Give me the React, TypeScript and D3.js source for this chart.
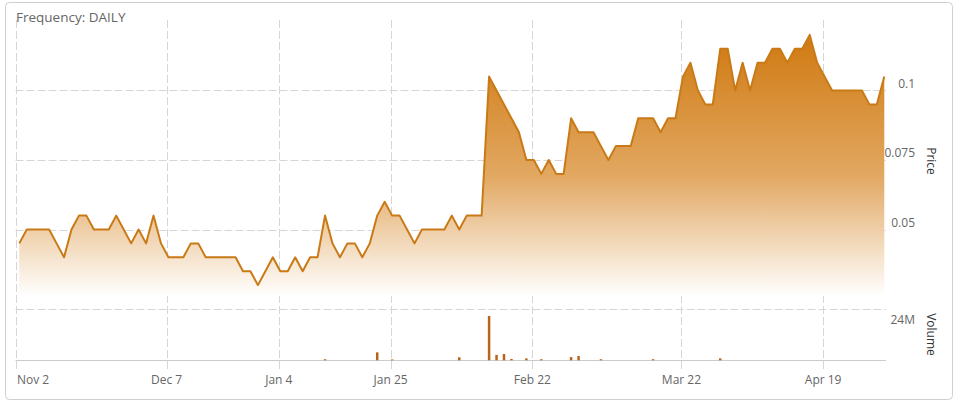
import React from "react";
import * as d3 from "d3";

// ---- data ----
const prices: number[] = [
  0.045, 0.05, 0.05, 0.05, 0.05, 0.045, 0.04, 0.05, 0.055, 0.055,
  0.05, 0.05, 0.05, 0.055, 0.05, 0.045, 0.05, 0.045, 0.055, 0.045,
  0.04, 0.04, 0.04, 0.045, 0.045, 0.04, 0.04, 0.04, 0.04, 0.04,
  0.035, 0.035, 0.03, 0.035, 0.04, 0.035, 0.035, 0.04, 0.035, 0.04,
  0.04, 0.055, 0.045, 0.04, 0.045, 0.045, 0.04, 0.045, 0.055, 0.06,
  0.055, 0.055, 0.05, 0.045, 0.05, 0.05, 0.05, 0.05, 0.055, 0.05,
  0.055, 0.055, 0.055, 0.105, 0.1, 0.095, 0.09, 0.085, 0.075, 0.075,
  0.07, 0.075, 0.07, 0.07, 0.09, 0.085, 0.085, 0.085, 0.08, 0.075,
  0.08, 0.08, 0.08, 0.09, 0.09, 0.09, 0.085, 0.09, 0.09, 0.105,
  0.11, 0.1, 0.095, 0.095, 0.115, 0.115, 0.1, 0.11, 0.1, 0.11,
  0.11, 0.115, 0.115, 0.11, 0.115, 0.115, 0.12, 0.11, 0.105, 0.1,
  0.1, 0.1, 0.1, 0.1, 0.095, 0.095, 0.105,
];

// volume in millions, by trading-day index (only days with visible volume)
const volumeDays: number[] = [41, 48, 50, 59, 63, 64, 65, 66, 68, 70, 74, 75, 78, 85, 94];
const volumeValues: number[] = [0.5, 3.7, 0.4, 1.4, 20.6, 2.5, 2.9, 0.6, 0.9, 0.5, 1.5, 2.0, 0.5, 0.5, 0.9];

// date ticks: label and their position on the trading-day axis
const tickLabels: string[] = ["Nov 2", "Dec 7", "Jan 4", "Jan 25", "Feb 22", "Mar 22", "Apr 19"];
const tickDays: number[] = [-0.45, 19.75, 34.8, 49.8, 68.8, 88.8, 107.8];

const priceTicks: number[] = [0.05, 0.075, 0.1];
const priceTickLabels: string[] = ["0.05", "0.075", "0.1"];
const volumeTicks: number[] = [24];
const volumeTickLabels: string[] = ["24M"];

// ---- layout ----
const W = 960;
const H = 406;
const plotLeft = 15.5;
const plotRight = 886;
const firstX = 19.3;
const lastX = 884.3;
const priceTop = 20;
const priceBottom = 296;
const volBase = 360.3;
const font = "'Open Sans', 'Liberation Sans', Arial, sans-serif";

export default function App() {
  const x = d3.scaleLinear().domain([0, prices.length - 1]).range([firstX, lastX]);
  const yP = d3.scaleLinear().domain([0.025, 0.125]).range([299, 21]);
  const yV = d3.scaleLinear().domain([0, 24]).range([volBase, 308.7]);

  const line = d3
    .line<number>()
    .x((_, i) => x(i))
    .y((d) => yP(d));
  const area = d3
    .area<number>()
    .x((_, i) => x(i))
    .y0(priceBottom)
    .y1((d) => yP(d));

  return (
    <svg
      width={W}
      height={H}
      style={{ position: "absolute", left: 0, top: 0, background: "#fff" }}
      fontFamily={font}
    >
      <defs>
        <linearGradient id="pf" x1="0" y1={priceTop + 10} x2="0" y2={priceBottom} gradientUnits="userSpaceOnUse">
          <stop offset="0" stopColor="rgb(207,120,14)" stopOpacity={1} />
          <stop offset="0.55" stopColor="rgb(226,168,98)" stopOpacity={1} />
          <stop offset="1" stopColor="#ffffff" stopOpacity={1} />
        </linearGradient>
      </defs>

      <rect x={5.5} y={2.5} width={947} height={397} rx={4} fill="#fff" stroke="#cfcfcf" />

      {/* horizontal grid */}
      {priceTicks.map((t) => (
        <line key={"pg" + t} x1={plotLeft} x2={plotRight} y1={Math.round(yP(t)) + 0.5} y2={Math.round(yP(t)) + 0.5}
          stroke="#d6d6d6" strokeDasharray="8,3" />
      ))}
      {volumeTicks.map((t) => (
        <line key={"vg" + t} x1={plotLeft} x2={plotRight} y1={Math.round(yV(t)) + 0.5} y2={Math.round(yV(t)) + 0.5}
          stroke="#d6d6d6" strokeDasharray="8,3" />
      ))}

      {/* vertical grid */}
      {tickDays.map((d, i) => (
        <line key={"vx" + i} x1={Math.round(x(d)) + 0.5} x2={Math.round(x(d)) + 0.5} y1={priceTop} y2={370}
          stroke="#d6d6d6" strokeDasharray="8,3" />
      ))}

      {/* price area + line */}
      <path d={area(prices) || ""} fill="url(#pf)" />
      <path d={line(prices) || ""} fill="none" stroke="#c97a16" strokeWidth={2} strokeLinejoin="round" />

      {/* volume baseline */}
      <line x1={plotLeft} x2={plotRight} y1={Math.round(volBase) + 0.5} y2={Math.round(volBase) + 0.5} stroke="#cccccc" />

      {/* volume bars */}
      {volumeDays.map((d, i) => {
        const top = yV(volumeValues[i]);
        return (
          <rect key={"vb" + d} x={x(d) - 1.25} y={top} width={2.5} height={volBase - top} fill="#b8651a" />
        );
      })}

      {/* x labels */}
      {tickDays.map((d, i) => (
        <text key={"xl" + i} x={i === 0 ? x(d) + 1 : x(d)} y={384} fontSize={12} fill="#666"
          textAnchor={i === 0 ? "start" : "middle"}>
          {tickLabels[i]}
        </text>
      ))}

      {/* price labels */}
      {priceTicks.map((t, i) => (
        <text key={"pl" + t} x={915} y={yP(t) - 3} fontSize={12} fill="#666" textAnchor="end">
          {priceTickLabels[i]}
        </text>
      ))}
      {volumeTicks.map((t, i) => (
        <text key={"vl" + t} x={915} y={yV(t) + 15.5} fontSize={12} fill="#666" textAnchor="end">
          {volumeTickLabels[i]}
        </text>
      ))}

      <text transform="translate(927,161) rotate(90)" fontSize={12} fill="#333" textAnchor="middle">
        Price
      </text>
      <text transform="translate(927,334.5) rotate(90)" fontSize={12} fill="#333" textAnchor="middle">
        Volume
      </text>

      <text x={16} y={22} fontSize={13.5} fill="#666">
        Frequency: DAILY
      </text>
    </svg>
  );
}
